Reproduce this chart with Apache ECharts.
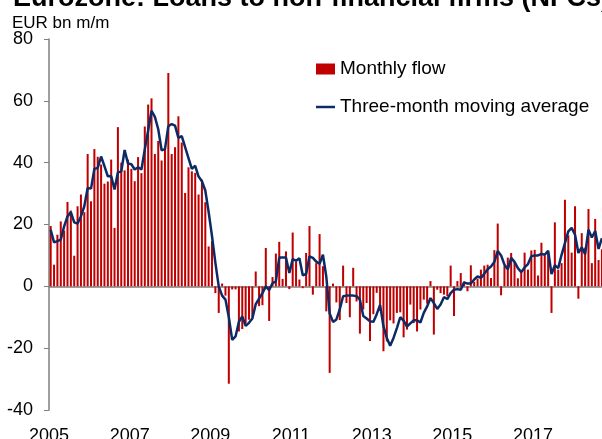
<!DOCTYPE html>
<html>
<head>
<meta charset="utf-8">
<script src="https://cdn.jsdelivr.net/npm/echarts@6/dist/echarts.min.js"></script>
<style>
  html, body { margin: 0; padding: 0; background: #fff; }
  #chart { width: 602px; height: 439px; }
</style>
</head>
<body>
<div id="chart"></div>
<script>
// tick labels for the years under the chart
const yearLabels = ['2005', '2007', '2009', '2011', '2013', '2015', '2017']

// monthly flow, EUR bn, Jan 2005 .. Sep 2018
const monthlyFlow = [
  19.5, 7, 16.7, 21, 18, 27.3, 24.5, 9.9, 25.9, 29.7, 24, 42.8,
  27.5, 44.4, 41.9, 39.4, 33.2, 33.9, 41, 18.9, 51.5, 40, 37.5, 41,
  38, 34, 41.8, 36.6, 51.7, 58.8, 60.8, 42.8, 47, 40.7, 44.7, 69,
  42.8, 45, 55, 46.5, 30.2, 38.5, 37.2, 36.7, 29.7, 34.5, 27.2, 12.9,
  14.6, -2.2, -8.6, 0.9, -3, -31.5, -1, -1, -14.6, -13.8, -12, -10.8,
  -10, 4.8, -6.4, -6.1, 12.4, -11.2, 3, 10.6, 14.4, 2.4, 11.3, -0.9,
  17.4, 8.1, 2.2, -0.6, 10.8, 19.5, -2.7, 7.5, 16.9, 6.5, -8.1, -28,
  0.9, -5.2, -10.9, 6.7, -5.4, -10, 6, -4.9, -15.3, -7.5, -5.4, -17.7,
  -9, -2.1, -8, -21, -17.8, -11, -12, -8.6, -8.4, -16.5, -14, -5.9,
  -11.9, -14.6, -7.5, -4.3, -5.6, 1.7, -15.6, -1.1, -2.2, -2.7, -3.2, 6.7,
  -9.6, 1.7, 4.3, 1.5, -1.6, 6.8, 1.5, 2.5, 5.4, 6.7, 7, 2.7,
  11.7, 20.3, -2.9, 6.6, 9.3, 10.8, 7.8, 2.6, 4.6, 10.9, 5.4, 11.6,
  11.8, 3.5, 14.1, 10, 11.3, -8.6, 20.7, 5.4, 7.5, 28, 16.5, 10.9,
  25.9, -4, 17.2, 12.5, 25, 7.5, 21.8, 8.5, 12
]

// three-month moving average as drawn
const movingAvg = [
  18.3, 14.2, 14.6, 15.1, 19.4, 22.6, 24, 20.7, 20.3, 22.6, 25.9, 31.8,
  31.6, 38, 38.3, 42, 38.9, 35.6, 35.7, 31.3, 36.9, 37.1, 44.1, 39.7,
  39.5, 37.8, 38.5, 37.8, 44.3, 50.4, 56.8, 54.8, 50.8, 44, 44.4, 51.8,
  52.5, 52, 48, 48.6, 45, 41.5, 38, 39, 35.5, 34, 31, 24,
  16.2, 7.6, 0, -3, -4.3, -10, -17.3, -16.2, -11.5, -9.7, -12.8, -11.8,
  -10.4, -5.8, -4, -2.2, 0, -1.2, 1, 1.6, 9.3, 9.3, 9.3, 4.3,
  8.8, 8.3, 9.1, 3.6, 4, 9.7, 9.2, 8, 7.3, 10.2, 3.1, -8.8,
  -11.5, -10.7, -7.5, -3.2, -3, -3, -3, -3.2, -4.3, -9.6, -10.4, -11.3,
  -11.5, -9, -6, -12.9, -16.7, -19.2, -16.7, -13.5, -10, -11.1, -13, -12,
  -11, -11, -11.7, -8.6, -6.5, -3.8, -5.4, -7.3, -5.9, -3.5, -4.1, -2.2,
  -1.1, -0.9, -1.1, 1.3, 0.9, 0.9, 2.2, 3.2, 2.7, 4.1, 5.5, 6.4,
  7.9, 11.4, 10, 7, 5.5, 9.2, 7.9, 5.9, 4.6, 6.1, 7.2, 9.7,
  10, 10, 10.5, 10.2, 11.5, 4, 6.8, 5.9, 10.2, 14, 17.8, 18.9,
  16.7, 10.8, 12.6, 10.4, 18.3, 15.8, 17.9, 12.1, 15.6
]

// month categories
const months = []
for (let i = 0; i < monthlyFlow.length; i++) {
  months.push((2005 + Math.floor(i / 12)) + '-' + String(i % 12 + 1).padStart(2, '0'))
}

const font = '"Liberation Sans", Arial, sans-serif'
const navy = '#0c2a66'
const myChart = echarts.init(document.getElementById('chart'))

myChart.setOption({
  animation: false,
  title: {
    text: 'Eurozone: Loans to non-financial firms (NFCs)',
    left: 8,
    top: -20,
    textStyle: { fontFamily: font, fontSize: 27, fontWeight: 'bold', color: '#000' }
  },
  graphic: [{
    type: 'text',
    left: 12,
    top: 15,
    style: { text: 'EUR bn m/m', font: '17px ' + font, fill: '#000' }
  }],
  legend: {
    orient: 'vertical',
    left: 311,
    top: 54,
    itemWidth: 19,
    itemHeight: 11,
    itemGap: 18,
    textStyle: { fontFamily: font, fontSize: 19, color: '#000', lineHeight: 20 },
    data: [
      { name: 'Monthly flow', icon: 'rect' },
      { name: 'Three-month moving average', icon: 'path://M0 0 H20 V2.6 H0 Z', itemStyle: { color: navy } }
    ]
  },
  grid: {
    left: 49,
    top: 39,
    width: 554.6,
    height: 371,
    containLabel: false,
    outerBoundsMode: 'none'
  },
  xAxis: [
    {
      type: 'category',
      position: 'bottom',
      data: months,
      axisLine: { onZero: true, lineStyle: { color: '#7f7f7f', width: 1.5 } },
      axisTick: {
        length: 4,
        interval: (i) => i % 12 === 0,
        lineStyle: { color: '#222' }
      },
      axisLabel: { show: false },
      splitLine: { show: false }
    },
    {
      type: 'value',
      position: 'bottom',
      min: 0,
      max: months.length,
      interval: 24,
      axisLine: { show: false, onZero: false },
      axisTick: { show: false },
      splitLine: { show: false },
      axisLabel: {
        margin: 17,
        fontFamily: font,
        fontSize: 18,
        color: '#000',
        formatter: (v) => (v % 24 === 0 ? yearLabels[v / 24] || '' : '')
      }
    }
  ],
  yAxis: {
    type: 'value',
    min: -40,
    max: 80,
    interval: 20,
    axisLine: { show: true, onZero: false, lineStyle: { color: '#7f7f7f', width: 1.5 } },
    axisTick: { show: true, length: 5, lineStyle: { color: '#7f7f7f' } },
    splitLine: { show: false },
    axisLabel: { margin: 16, fontFamily: font, fontSize: 18, color: '#000' }
  },
  series: [
    {
      name: 'Monthly flow',
      type: 'bar',
      xAxisIndex: 0,
      data: monthlyFlow,
      barWidth: '60%',
      itemStyle: { color: '#c00000' }
    },
    {
      name: 'Three-month moving average',
      type: 'line',
      xAxisIndex: 0,
      data: movingAvg,
      symbol: 'none',
      lineStyle: { color: navy, width: 2.5 },
      itemStyle: { color: navy }
    }
  ]
})
</script>
</body>
</html>
